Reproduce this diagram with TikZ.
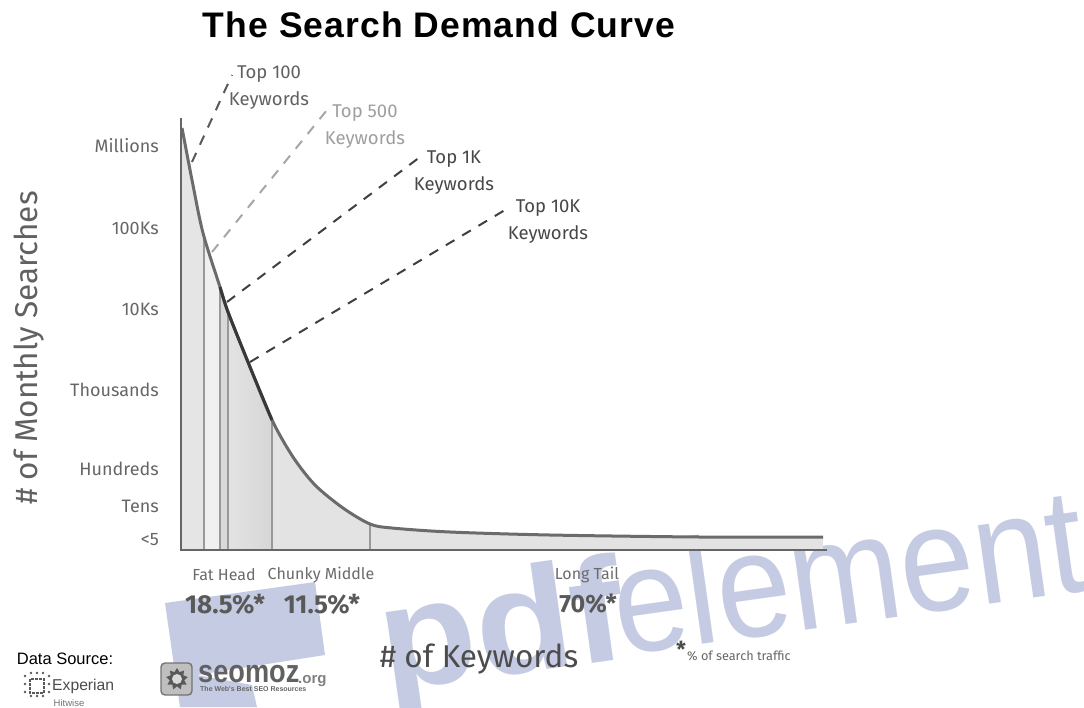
\documentclass[tikz,border=0pt]{standalone}
\usepackage{fontspec}
\usetikzlibrary{shapes.geometric}
\setmainfont{Fira Sans}
\newfontfamily\arialf{Liberation Sans}
\newfontfamily\titlef[LetterSpace=3.0]{Liberation Sans}
\newfontfamily\trebf{Fira Sans}
\definecolor{wm}{HTML}{C6CBE4}
\definecolor{lab}{HTML}{666666}
\tikzset{
  axlab/.style={anchor=east,font=\trebf\fontsize{18}{18}\selectfont,text=lab,inner sep=0pt},
  toplab/.style={inner sep=0pt,align=center,text=#1,font=\trebf\fontsize{18.5}{27}\selectfont},
  lead/.style={dash pattern=on 10pt off 9pt,line width=2pt,draw=#1},
  divider/.style={line width=1.5pt,draw=black!40},
  seglab/.style={font=\trebf\fontsize{16}{16}\selectfont,text=black!58,inner sep=0pt},
  pct/.style={font=\trebf\bfseries\fontsize{26}{26}\selectfont,text=black!65,inner sep=0pt},
  wmtext/.style={anchor=base west,rotate=8,inner sep=0pt,text=wm},
}
\def\curvepts{(182,128) (192,180) (203,233) (220,287) (228,312) (250,367) (272,420) (293,457) (315,485) (343,508) (370,524) (392,528) (450,532) (550,535) (700,537) (823,537)}
\begin{document}
\begin{tikzpicture}[x=1pt,y=-1pt]
\useasboundingbox (0,0) rectangle (1084,707);
% watermark
\fill[wm] (165,603) -- (315,582) -- (325,655) -- (197,675) -- (252,685) -- (257,707) -- (180,707) -- cycle;
\begin{scope}
\clip (0,0) rectangle (1084,707);
\node[wmtext,font=\arialf\bfseries\fontsize{148}{148}\selectfont] (wmpdf) at (386,692) {\scalebox{1.07}[1]{pdf}};
\node[wmtext,font=\arialf\fontsize{150}{150}\selectfont] (wmel) at (620,656) {\scalebox{.89}[1]{element}};
\end{scope}
% area fills
\begin{scope}
\clip plot[smooth,tension=.5] coordinates {\curvepts} -- (823,550) -- (181,550) -- cycle;
\fill[black!10] (181,110) rectangle (204,550);
\fill[black!6] (204,110) rectangle (220,550);
\fill[black!15] (220,110) rectangle (228,550);
\shade[left color=black!11,right color=black!16] (228,110) rectangle (272,550);
\fill[black!11] (272,110) rectangle (823,550);
\foreach \x in {204,220,228,272,370} \draw[divider] (\x,110) -- (\x,550);
\end{scope}
% curve
\draw[line width=3pt,draw=black!58,line join=round] plot[smooth,tension=.5] coordinates {\curvepts};
\draw[line width=3pt,draw=black!78] plot[smooth,tension=.5] coordinates {(220,287) (228,312) (250,367) (272,420)};
% axes
\coordinate (axtop) at (181,118);
\coordinate (axorig) at (181,550);
\coordinate (axend) at (827,550);
\draw[line width=2.6pt,draw=black!60] (axtop) -- (axorig) -- (axend);
% title
\node[inner sep=0pt,font=\titlef\bfseries\fontsize{35.5}{36}\selectfont] (title) at (439,25) {The Search Demand Curve};
% y labels
\node[axlab] (ymil) at (159,146) {Millions};
\node[axlab] (y100k) at (159,228) {100Ks};
\node[axlab] (y10k) at (159,309) {10Ks};
\node[axlab] (ythou) at (159,390) {Thousands};
\node[axlab] (yhun) at (159,469) {Hundreds};
\node[axlab] (yten) at (159,506) {Tens};
\node[axlab] (ylt) at (159,540) {<5};
\node[rotate=90,inner sep=0pt,text=black!62,font=\trebf\fontsize{31.5}{32}\selectfont] (ytitle) at (29,348) {\# of Monthly Searches};
% top labels
\node[toplab=black!62] (t100) at (269,88) {Top 100\\Keywords};
\node[toplab=black!38] (t500) at (365,127) {Top 500\\Keywords};
\node[toplab=black!72] (t1k) at (454,173) {Top 1K\\Keywords};
\node[toplab=black!72] (t10k) at (548,222) {Top 10K\\Keywords};
\coordinate (c100) at (192,162);
\coordinate (e100) at (232,75);
\coordinate (c500) at (212,252);
\coordinate (e500) at (327,110);
\coordinate (c1k) at (227,302);
\coordinate (e1k) at (420,157);
\coordinate (c10k) at (250,362);
\coordinate (e10k) at (510,207);
\draw[lead=black!65] (c100) -- (e100);
\draw[lead=black!35] (c500) -- (e500);
\draw[lead=black!75] (c1k) -- (e1k);
\draw[lead=black!75] (c10k) -- (e10k);
% segment labels
\node[seglab] (fat) at (224,575) {Fat Head};
\node[seglab] (chunky) at (321,575) {Chunky Middle};
\node[seglab] (long) at (587,575) {Long Tail};
\node[pct] (p1) at (225,604) {18.5\%*};
\node[pct] (p2) at (322,604) {11.5\%*};
\node[pct,font=\trebf\bfseries\fontsize{25}{25}\selectfont] (p3) at (588,604) {70\%*};
\node[inner sep=0pt,text=black!70,font=\trebf\fontsize{31.5}{32}\selectfont] (xtitle) at (479,659) {\# of Keywords};
\node[inner sep=0pt,text=black!70,font=\trebf\bfseries\fontsize{22}{22}\selectfont] (star) at (681,649) {*};
\node[anchor=west,inner sep=0pt,text=black!60,font=\trebf\fontsize{12.7}{13}\selectfont] (note) at (687,656) {\% of search traffic};
% data source
\node[inner sep=0pt,font=\arialf\fontsize{16.5}{17}\selectfont] (ds) at (65,659) {Data Source:};
\draw[line width=1.6pt,black!65,dash pattern=on 3pt off 1pt] (30,679) rectangle (44,693);
\foreach \p in {(25,676),(31,673),(37,673),(43,673),(49,676),(25,684),(49,684),(25,692),(49,692),(31,696),(37,696),(43,696)} \fill[black!65] \p circle (1.3);
\node[anchor=west,inner sep=0pt,text=black!70,font=\arialf\fontsize{15.7}{16}\selectfont] (exp) at (52,686) {Experian};
\node[inner sep=0pt,text=black!55,font=\arialf\fontsize{9.5}{10}\selectfont] (hit) at (69,703) {Hitwise};
% seomoz logo
\draw[line width=1.4pt,draw=black!55,fill=black!25,rounded corners=4pt] (161,663) rectangle (192,695);
\node[star,star points=9,star point ratio=1.5,inner sep=0pt,minimum size=22pt,fill=black!65,draw=none] (gear) at (177,679) {};
\fill[black!15] (177,679) circle (5);
\node[anchor=west,inner sep=0pt,text=black!62,font=\arialf\bfseries\fontsize{32}{32}\selectfont] (seo) at (198,674) {\scalebox{.85}[1]{seomoz}};
\node[anchor=west,inner sep=0pt,text=black!50,font=\arialf\bfseries\fontsize{15}{15}\selectfont] (org) at (298,681) {.org};
\node[anchor=west,inner sep=0pt,text=black!60,font=\arialf\bfseries\fontsize{7}{7}\selectfont] (tag) at (200,689) {The Web's Best SEO Resources};
\end{tikzpicture}
\end{document}
